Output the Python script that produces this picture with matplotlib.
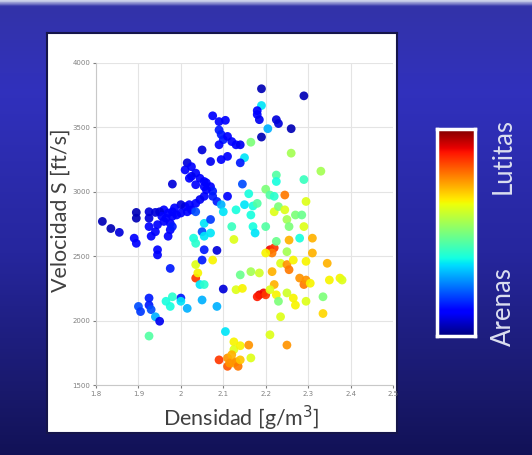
import numpy as np
import matplotlib.pyplot as plt
from matplotlib.colors import LinearSegmentedColormap

# Densidad [g/m3], velocidad S [ft/s] y litologia (0 = arenas, 1 = lutitas)
densidad = [
    2.19, 2.29, 2.19, 2.18, 2.18, 2.185, 2.225, 2.23, 2.26, 2.205,
    2.19, 2.075, 2.09, 2.105, 2.09, 2.095, 2.1, 2.11, 2.12, 2.13,
    2.14, 2.09, 2.165, 2.26, 2.15, 2.14, 2.11, 2.095, 2.07, 2.05,
    2.015, 2.01, 2.025, 2.035, 2.045, 2.055, 2.06, 2.07, 2.075, 2.06,
    2.055, 2.035, 2.025, 2.02, 1.98, 2.33, 2.29, 2.225, 2.225, 2.145,
    2.16, 2.2, 2.21, 2.22, 2.245, 2.075, 2.085, 2.095, 2.11, 2.055,
    2.045, 2.035, 2.02, 2.01, 2.0, 1.985, 1.98, 1.97, 1.96, 1.95,
    1.955, 1.965, 1.98, 1.99, 2.0, 2.015, 2.025, 2.035, 1.94, 1.925,
    1.895, 1.895, 1.925, 1.815, 1.835, 1.855, 1.89, 1.895, 1.925, 1.94,
    1.93, 1.945, 1.96, 1.975, 1.975, 1.97, 1.98, 1.945, 1.945, 1.975,
    2.055, 2.05, 2.07, 2.07, 2.1, 2.12, 2.13, 2.15, 2.17, 2.18,
    2.165, 2.17, 2.175, 2.2, 2.22, 2.23, 2.245, 2.25, 2.255, 2.27,
    2.285, 2.295, 2.29, 2.125, 2.03, 2.035, 2.055, 2.055, 2.085, 2.075,
    2.035, 2.05, 2.21, 2.22, 2.215, 2.2, 2.225, 2.255, 2.28, 2.31,
    2.25, 2.235, 2.25, 2.255, 2.265, 2.295, 2.31, 2.345, 2.035, 2.04,
    2.045, 2.055, 2.14, 2.165, 2.13, 2.145, 2.185, 2.215, 2.22, 2.28,
    2.29, 2.295, 2.305, 2.35, 2.375, 2.38, 2.335, 2.1, 2.185, 2.195,
    2.2, 2.18, 2.21, 2.225, 2.23, 2.25, 2.265, 2.27, 2.295, 2.335,
    2.235, 2.21, 2.25, 2.0, 2.0, 1.98, 1.965, 1.975, 2.015, 2.05,
    2.085, 1.925, 1.925, 1.93, 1.94, 1.95, 1.9, 1.905, 2.105, 1.925,
    2.125, 2.125, 2.14, 2.16, 2.165, 2.09, 2.11, 2.11, 2.12, 2.125,
    2.13, 2.135, 2.14, 2.115,
]
velocidad = [
    3800, 3745, 3670, 3630, 3600, 3560, 3560, 3530, 3490, 3490,
    3425, 3590, 3545, 3555, 3480, 3445, 3405, 3430, 3390, 3365,
    3365, 3365, 3385, 3300, 3265, 3225, 3275, 3250, 3235, 3325,
    3225, 3170, 3195, 3145, 3105, 3080, 3070, 3040, 3005, 3015,
    3040, 3055, 3120, 3105, 3060, 3160, 3095, 3130, 3080, 3060,
    2985, 3020, 2975, 2965, 2975, 2965, 2925, 2900, 2965, 2965,
    2940, 2910, 2900, 2885, 2900, 2875, 2845, 2835, 2860, 2845,
    2810, 2795, 2810, 2820, 2835, 2845, 2860, 2845, 2840, 2845,
    2840, 2795, 2795, 2770, 2715, 2685, 2640, 2600, 2730, 2690,
    2655, 2745, 2770, 2755, 2705, 2655, 2730, 2550, 2510, 2405,
    2755, 2690, 2680, 2785, 2845, 2730, 2860, 2900, 2890, 2910,
    2820, 2730, 2680, 2730, 2845, 2885, 2860, 2785, 2730, 2820,
    2820, 2925, 2730, 2630, 2640, 2600, 2655, 2550, 2545, 2470,
    2435, 2470, 2550, 2565, 2525, 2525, 2615, 2625, 2640, 2640,
    2535, 2445, 2435, 2395, 2470, 2460, 2525, 2445, 2330, 2370,
    2280, 2280, 2355, 2380, 2240, 2250, 2370, 2380, 2280, 2330,
    2280, 2315, 2290, 2315, 2330, 2315, 2185, 2245, 2200, 2215,
    2200, 2185, 2240, 2200, 2150, 2215, 2175, 2120, 2150, 2055,
    2030, 1890, 1810, 2175, 2150, 2185, 2150, 2110, 2095, 2160,
    2110, 2175, 2120, 2085, 2030, 1995, 2110, 2070, 1915, 1880,
    1835, 1775, 1805, 1810, 1710, 1695, 1645, 1710, 1735, 1670,
    1680, 1645, 1695, 1670,
]
litologia = [
    0.05, 0.05, 0.35, 0.12, 0.12, 0.10, 0.08, 0.08, 0.05, 0.30,
    0.05, 0.12, 0.12, 0.12, 0.15, 0.15, 0.15, 0.12, 0.12, 0.12,
    0.10, 0.12, 0.50, 0.55, 0.35, 0.15, 0.12, 0.12, 0.10, 0.08,
    0.08, 0.12, 0.12, 0.12, 0.12, 0.12, 0.12, 0.12, 0.15, 0.12,
    0.12, 0.12, 0.10, 0.12, 0.08, 0.55, 0.42, 0.45, 0.38, 0.20,
    0.38, 0.50, 0.45, 0.40, 0.78, 0.15, 0.15, 0.30, 0.12, 0.12,
    0.10, 0.12, 0.12, 0.12, 0.08, 0.12, 0.12, 0.12, 0.12, 0.08,
    0.12, 0.12, 0.12, 0.12, 0.12, 0.12, 0.12, 0.20, 0.08, 0.08,
    0.05, 0.05, 0.08, 0.05, 0.05, 0.08, 0.12, 0.12, 0.12, 0.12,
    0.12, 0.12, 0.12, 0.12, 0.12, 0.12, 0.15, 0.12, 0.12, 0.15,
    0.35, 0.20, 0.35, 0.18, 0.35, 0.42, 0.38, 0.35, 0.38, 0.45,
    0.38, 0.38, 0.35, 0.45, 0.62, 0.50, 0.62, 0.55, 0.50, 0.50,
    0.48, 0.62, 0.62, 0.62, 0.38, 0.40, 0.35, 0.15, 0.08, 0.65,
    0.62, 0.15, 0.90, 0.85, 0.78, 0.65, 0.48, 0.72, 0.38, 0.72,
    0.55, 0.62, 0.75, 0.78, 0.65, 0.65, 0.72, 0.72, 0.85, 0.65,
    0.35, 0.40, 0.48, 0.55, 0.62, 0.65, 0.60, 0.72, 0.72, 0.75,
    0.78, 0.75, 0.65, 0.65, 0.65, 0.62, 0.50, 0.08, 0.92, 0.90,
    0.85, 0.88, 0.62, 0.65, 0.50, 0.60, 0.65, 0.65, 0.62, 0.68,
    0.62, 0.62, 0.75, 0.15, 0.35, 0.40, 0.38, 0.38, 0.30, 0.30,
    0.30, 0.15, 0.15, 0.20, 0.30, 0.10, 0.20, 0.18, 0.35, 0.45,
    0.65, 0.62, 0.65, 0.75, 0.62, 0.85, 0.82, 0.75, 0.72, 0.72,
    0.75, 0.78, 0.70, 0.75,
]

x_ticks = [1.8, 1.9, 2.0, 2.1, 2.2, 2.3, 2.4, 2.5]
x_ticklabels = ['1.8', '1.9', '2', '2.1', '2.2', '2.3', '2.4', '2.5']
y_ticks = [1500, 2000, 2500, 3000, 3500, 4000]

W, H = 532, 455
fig = plt.figure(figsize=(W / 100, H / 100), dpi=100)

# slide background: blue vertical gradient
bg = fig.add_axes([0, 0, 1, 1], zorder=-10)
stops = [(0.0, (0.80, 0.82, 0.92)), (0.012, (0.20, 0.20, 0.66)),
         (0.2, (0.19, 0.19, 0.74)), (0.55, (0.15, 0.15, 0.62)),
         (0.85, (0.10, 0.10, 0.43)), (1.0, (0.07, 0.07, 0.34))]
grad = LinearSegmentedColormap.from_list('slide', stops)
bg.imshow(np.linspace(0, 1, 256)[:, None], aspect='auto', cmap=grad,
          extent=[0, 1, 0, 1])
bg.set_axis_off()

# white panel holding the plot
panel = fig.add_axes([47 / W, 1 - 433 / H, 350 / W, 400 / H], zorder=-5)
panel.set_facecolor('white')
panel.set_xticks([])
panel.set_yticks([])
for sp in panel.spines.values():
    sp.set_color('#15154a')
    sp.set_linewidth(1.5)

ax = fig.add_axes([96 / W, 1 - 385 / H, 297 / W, 322 / H])
ax.scatter(densidad, velocidad, c=litologia, cmap='jet', vmin=0, vmax=1,
           s=40, edgecolors='none', alpha=0.92, zorder=3)
ax.set_xlim(1.8, 2.5)
ax.set_ylim(1500, 4000)
ax.set_xticks(x_ticks)
ax.set_xticklabels(x_ticklabels)
ax.set_yticks(y_ticks)
ax.tick_params(labelsize=5, colors='#808080', length=2, pad=2)
ax.grid(True, color='#e4e4e4', linewidth=0.8)
ax.set_axisbelow(True)
for side in ['top', 'right']:
    ax.spines[side].set_visible(False)
for side in ['left', 'bottom']:
    ax.spines[side].set_color('#c8c8c8')

font = ['Lato', 'DejaVu Sans']
fig.text(61 / W, 1 - 210 / H, 'Velocidad S [ft/s]', rotation=90,
         ha='center', va='center', fontsize=15.5, color='#404040', family=font)
fig.text(241 / W, 1 - 418 / H, 'Densidad [g/m$^3$]', ha='center',
         va='center', fontsize=15.5, color='#404040', family=font)

# colour scale
cax = fig.add_axes([437 / W, 1 - 336 / H, 38 / W, 207 / H])
cax.imshow(np.linspace(0, 1, 256)[:, None], aspect='auto', cmap='jet',
           origin='lower', extent=[0, 1, 0, 1])
cax.set_xticks([])
cax.set_yticks([])
for sp in cax.spines.values():
    sp.set_color('white')
    sp.set_linewidth(2.5)

fig.text(503 / W, 1 - 156 / H, 'Lutitas', rotation=90, ha='center',
         va='center', fontsize=18.5, color='#dcdff0', family=font)
fig.text(503 / W, 1 - 307 / H, 'Arenas', rotation=90, ha='center',
         va='center', fontsize=18.5, color='#dcdff0', family=font)

fig.savefig('out.png', dpi=100)
